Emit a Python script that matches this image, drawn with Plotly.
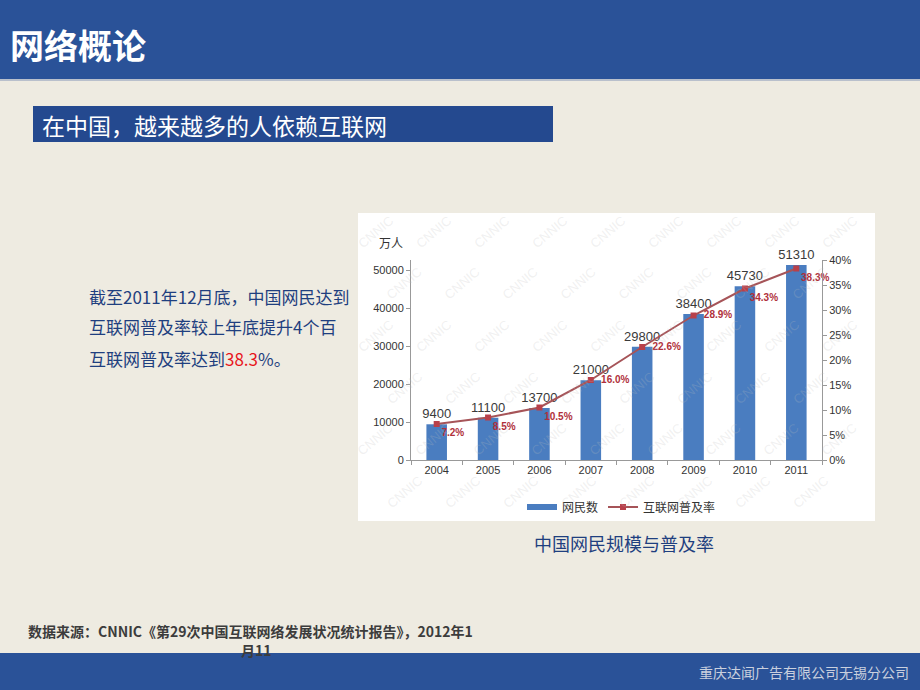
import plotly.graph_objects as go

W, H = 920, 690

years = ["2004", "2005", "2006", "2007", "2008", "2009", "2010", "2011"]
netizens = [9400, 11100, 13700, 21000, 29800, 38400, 45730, 51310]
penetration = [0.072, 0.085, 0.105, 0.160, 0.226, 0.289, 0.343, 0.383]
pen_labels = ["7.2%", "8.5%", "10.5%", "16.0%", "22.6%", "28.9%", "34.3%", "38.3%"]
left_ticks = [0, 10000, 20000, 30000, 40000, 50000]
right_ticks = [0, 0.05, 0.10, 0.15, 0.20, 0.25, 0.30, 0.35, 0.40]

BLUE = "#2A5298"
BG = "#EEEBE1"
BARBLUE = "#4A7DC0"
CJK = "Noto Sans CJK SC"
NUMFONT = "Liberation Sans Narrow, Liberation Sans"


def px(x):
    return x / W


def py(y):
    return 1 - y / H


pen_pos = ["bottom right", "bottom right", "bottom right", "middle right",
           "middle right", "middle right", "bottom right", "bottom right"]
pen_text = [("<b>%s</b>" % t) if p.startswith("bottom") else ("\u00a0\u00a0<b>%s</b>" % t)
            for t, p in zip(pen_labels, pen_pos)]

fig = go.Figure()

fig.add_trace(go.Bar(
    x=years, y=netizens, name="网民数", showlegend=False,
    marker=dict(color=BARBLUE, line=dict(width=0)),
    text=[str(v) for v in netizens], textposition="outside", constraintext="none",
    textfont=dict(size=13, color="#3A3A3A", family=NUMFONT),
    cliponaxis=False,
))

# legend entry for the bars (wide flat swatch as in the source picture)
fig.add_trace(go.Scatter(
    x=[None], y=[None], name="网民数", mode="lines",
    line=dict(color=BARBLUE, width=6), hoverinfo="skip",
))

fig.add_trace(go.Scatter(
    x=years, y=penetration, name="互联网普及率", yaxis="y2",
    mode="lines+markers+text",
    line=dict(color="#A65458", width=2),
    marker=dict(symbol="square", size=6, color="#B8404A"),
    text=pen_text, textposition=pen_pos,
    textfont=dict(size=10, color="#B0303A", family=NUMFONT),
    cliponaxis=False,
))

shapes = [
    dict(type="rect", xref="paper", yref="paper", x0=0, x1=1, y0=py(79), y1=1,
         fillcolor=BLUE, line=dict(width=0), layer="below"),
    dict(type="line", xref="paper", yref="paper", x0=0, x1=1, y0=py(80), y1=py(80),
         line=dict(color="#B9C0CC", width=2), layer="below"),
    dict(type="rect", xref="paper", yref="paper", x0=px(33), x1=px(553), y0=py(142), y1=py(106),
         fillcolor="#24498F", line=dict(width=0), layer="below"),
    dict(type="rect", xref="paper", yref="paper", x0=px(358), x1=px(875), y0=py(521), y1=py(213),
         fillcolor="white", line=dict(width=0), layer="below"),
    dict(type="rect", xref="paper", yref="paper", x0=0, x1=1, y0=0, y1=py(653),
         fillcolor=BLUE, line=dict(width=0), layer="below"),
]

TEXTBLUE = "#1F3F7F"
annotations = []

# faint "CNNIC" watermark pattern on the chart picture
for r in range(6):
    for c in range(9):
        wx = 375 + c * 58 + (r % 2) * 29
        wy = 232 + r * 52
        if wx > 865:
            continue
        annotations.append(dict(text="CNNIC", x=px(wx), y=py(wy), xanchor="center", yanchor="middle",
                                textangle=-40,
                                font=dict(size=13, color="rgba(190,190,190,0.22)",
                                          family="Liberation Sans")))

annotations += [
    dict(text="<b>网络概论</b>", x=px(8), y=py(44), xanchor="left", yanchor="middle",
         font=dict(size=34, color="white", family=CJK)),
    dict(text="在中国，越来越多的人依赖互联网", x=px(40), y=py(125), xanchor="left", yanchor="middle",
         font=dict(size=23, color="white", family=CJK)),
    dict(text="截至2011年12月底，中国网民达到", x=px(87), y=py(296), xanchor="left", yanchor="middle",
         font=dict(size=17, color=TEXTBLUE, family=CJK)),
    dict(text="互联网普及率较上年底提升4个百", x=px(87), y=py(327), xanchor="left", yanchor="middle",
         font=dict(size=17, color=TEXTBLUE, family=CJK)),
    dict(text="互联网普及率达到<span style='color:#E8141B'>38.3</span>%。", x=px(87), y=py(358),
         xanchor="left", yanchor="middle",
         font=dict(size=17, color=TEXTBLUE, family=CJK)),
    dict(text="万人", x=px(391), y=py(242), xanchor="center", yanchor="middle",
         font=dict(size=12, color="#333333", family=CJK)),
    dict(text="中国网民规模与普及率", x=px(624), y=py(543), xanchor="center", yanchor="middle",
         font=dict(size=18, color=TEXTBLUE, family=CJK)),
    dict(text="<b>数据来源：CNNIC《第29次中国互联网络发展状况统计报告》，2012年1</b>", x=px(26), y=py(631),
         xanchor="left", yanchor="middle",
         font=dict(size=14, color="#3C3C3C", family=CJK)),
    dict(text="<b>月11</b>", x=px(256), y=py(650), xanchor="center", yanchor="middle",
         font=dict(size=14, color="#3C3C3C", family=CJK)),
    dict(text="重庆达闻广告有限公司无锡分公司", x=px(911), y=py(672), xanchor="right", yanchor="middle",
         font=dict(size=14, color="#C9D0DE", family=CJK)),
]
for a in annotations:
    a.update(xref="paper", yref="paper", showarrow=False)

fig.update_layout(
    width=W, height=H,
    margin=dict(l=0, r=0, t=0, b=0, pad=0, autoexpand=False),
    paper_bgcolor=BG,
    plot_bgcolor="rgba(0,0,0,0)",
    shapes=shapes,
    annotations=annotations,
    bargap=0.6,
    showlegend=True,
    legend=dict(orientation="h", x=px(522), y=py(507), xanchor="left", yanchor="middle",
                bgcolor="rgba(0,0,0,0)", font=dict(size=12, color="#333333", family=CJK),
                itemwidth=30, tracegroupgap=0),
    xaxis=dict(domain=[px(411), px(822)], type="category",
               showline=True, linecolor="#999999", linewidth=1,
               ticks="outside", tickson="boundaries", ticklen=4, tickcolor="#999999",
               tickfont=dict(size=11, color="#333333", family="Liberation Sans"),
               showgrid=False, zeroline=False),
    yaxis=dict(domain=[py(460), py(260)], range=[0, 52632],
               tickvals=left_ticks, ticktext=[str(v) for v in left_ticks],
               showline=True, linecolor="#999999", linewidth=1,
               ticks="outside", ticklen=4, tickcolor="#999999",
               tickfont=dict(size=11, color="#333333", family="Liberation Sans"),
               showgrid=False, zeroline=False),
    yaxis2=dict(overlaying="y", side="right", range=[0, 0.40],
                tickvals=right_ticks, tickformat=".0%",
                showline=True, linecolor="#999999", linewidth=1,
                ticks="outside", ticklen=4, tickcolor="#999999",
                tickfont=dict(size=11, color="#333333", family="Liberation Sans"),
                showgrid=False, zeroline=False),
)

fig.write_html("out.html",
               config={"displayModeBar": False},
               post_script="document.documentElement.style.margin='0';"
                           "document.body.style.margin='0';document.body.style.padding='0';"
                           "document.body.style.overflow='hidden';")
